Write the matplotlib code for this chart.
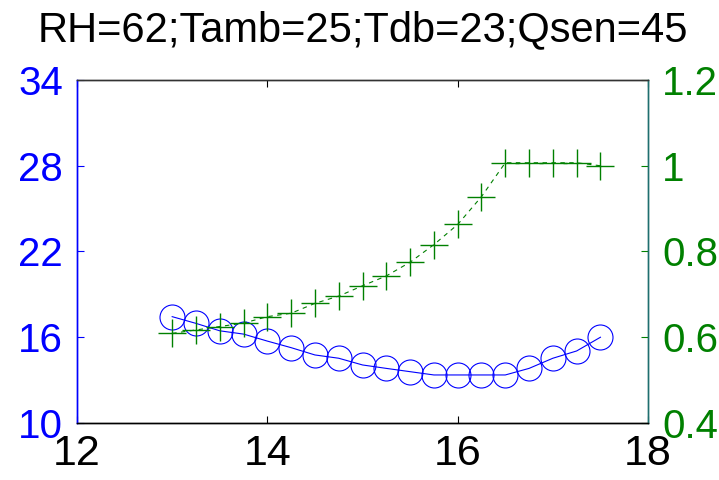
import matplotlib
matplotlib.use("Agg")
import matplotlib.pyplot as plt

# data
x = [13.0, 13.25, 13.5, 13.75, 14.0, 14.25, 14.5, 14.75, 15.0, 15.25,
     15.5, 15.75, 16.0, 16.25, 16.5, 16.75, 17.0, 17.25, 17.5]
temp = [17.44, 16.97, 16.45, 16.22, 15.73, 15.27, 14.76, 14.53, 14.06, 13.82,
        13.59, 13.36, 13.36, 13.36, 13.36, 13.82, 14.53, 15.04, 16.0]
ratio = [0.609, 0.617, 0.625, 0.633, 0.648, 0.656, 0.679, 0.696, 0.720, 0.743,
         0.775, 0.816, 0.863, 0.928, 1.007, 1.007, 1.007, 1.007, 1.0]

title = "RH=62;Tamb=25;Tdb=23;Qsen=45"
left_ticks = [10, 16, 22, 28, 34]
right_ticks = [0.4, 0.6, 0.8, 1.0, 1.2]
right_labels = ["0.4", "0.6", "0.8", "1", "1.2"]
x_ticks = [12, 14, 16, 18]

plt.rcParams["font.family"] = ["Liberation Sans", "DejaVu Sans"]

fig = plt.figure(figsize=(7.19, 4.8), dpi=100)
ax1 = fig.add_axes([0.1071, 0.1188, 0.7942, 0.7145])
ax2 = ax1.twinx()

blue = "#0000ff"
green = "#008000"

# temperature curve with open circles
ax1.plot(x, temp, color=blue, linewidth=0.8, marker="o", markersize=18,
         markerfacecolor="none", markeredgecolor=blue, markeredgewidth=0.8)

# ratio curve with plus markers, dashed
ax2.plot(x, ratio, color=green, linewidth=0.8, linestyle=(0, (4, 4)),
         marker="+", markersize=20, markeredgewidth=1.0)

ax1.set_xlim(12, 18)
ax1.set_ylim(10, 34)
ax2.set_ylim(0.4, 1.2)

ax1.set_xticks(x_ticks)
ax1.set_xticklabels([str(t) for t in x_ticks], fontsize=31)
ax1.set_yticks(left_ticks)
ax1.set_yticklabels([str(t) for t in left_ticks], fontsize=29, color=blue)
ax2.set_yticks(right_ticks)
ax2.set_yticklabels(right_labels, fontsize=29, color=green)

ax1.tick_params(axis="x", direction="in", length=5, width=0.8, pad=8,
                top=True, colors="black")
ax1.tick_params(axis="y", direction="in", length=5, width=0.8, pad=10,
                colors=blue)
ax2.tick_params(axis="y", direction="in", length=5, width=0.8, pad=10,
                colors=green)

for ax in (ax1, ax2):
    ax.spines["top"].set_color("#333333")
    ax.spines["bottom"].set_color("black")
    ax.spines["left"].set_color(blue)
    ax.spines["right"].set_color("#1f6f6f")
    for s in ax.spines.values():
        s.set_linewidth(1.0)

fig.text(0.504, 0.937, title, ha="center", va="center", fontsize=30)

fig.savefig("out.png", dpi=100)
